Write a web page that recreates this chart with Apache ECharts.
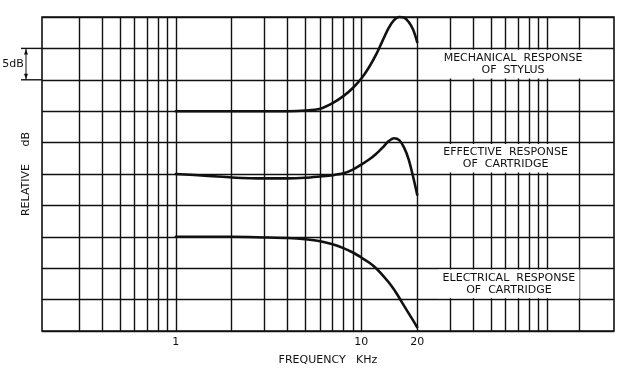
<!DOCTYPE html>
<html>
<head>
<meta charset="utf-8">
<script src="https://cdn.jsdelivr.net/npm/echarts@6/dist/echarts.min.js"></script>
<style>
html,body{margin:0;padding:0;background:#fff;}
#c{width:622px;height:380px;}
</style>
</head>
<body>
<div id="c"></div>
<script>
// ---- data ----
var xTickLabels = [1, 10, 20];
var xGridLines = [0.3,0.4,0.5,0.6,0.7,0.8,0.9,1,2,3,4,5,6,7,8,9,10,20,30,40,50,60,70,80,90,100,150];
var xMin = 0.19, xMax = 230;
var yMin = 0, yMax = 50, yStep = 5;

var freqMech = [1, 2, 3, 4, 5, 6, 7, 8, 9, 10, 11, 12, 13, 14, 15, 16, 17, 18, 19, 20];
var dbMech   = [35, 35, 35, 35, 35.1, 35.4, 36.3, 37.4, 38.7, 40.2, 42, 44, 46.2, 48.2, 49.5, 50, 49.9, 49.2, 48, 46];

var freqEff = [1, 1.5, 2, 3, 4, 5, 6, 7, 8, 9, 10, 11, 12, 13, 14, 15, 16, 17, 18, 19, 20];
var dbEff   = [25, 24.7, 24.45, 24.3, 24.3, 24.4, 24.6, 24.8, 25.1, 25.7, 26.5, 27.3, 28.2, 29.2, 30.2, 30.7, 30.4, 29.2, 27.3, 24.6, 21.7];

var freqElec = [1, 2, 3, 4, 5, 6, 7, 8, 9, 10, 11, 12, 13, 14, 15, 16, 17, 18, 19, 20];
var dbElec   = [15, 15, 14.9, 14.8, 14.6, 14.3, 13.8, 13.2, 12.5, 11.7, 10.9, 10, 8.9, 7.8, 6.6, 5.3, 4.0, 2.8, 1.7, 0.6];

var boxLabels = [
  {text: 'MECHANICAL  RESPONSE\nOF  STYLUS', x0: 26, x1: 166, y0: 40, y1: 45},
  {text: 'EFFECTIVE  RESPONSE\nOF  CARTRIDGE', x0: 26, x1: 138, y0: 25, y1: 30},
  {text: 'ELECTRICAL  RESPONSE\nOF  CARTRIDGE', x0: 26, x1: 150, y0: 5, y1: 10}
];

function pairs(xs, ys){ return xs.map(function(x,i){ return [x, ys[i]]; }); }

var FONT = 'DejaVu Sans';
var INK = '#111111';

var chart = echarts.init(document.getElementById('c'), null, {renderer:'canvas'});

var curveStyle = {color: INK, width: 2.6, cap: 'round', join: 'round'};
function curve(name, xs, ys){
  return {type: 'line', name: name, data: pairs(xs, ys), smooth: 0.3,
    showSymbol: false, symbol: 'none', clip: false, z: 5, lineStyle: curveStyle};
}

chart.setOption({
  animation: false,
  backgroundColor: '#fff',
  grid: {left: 42, right: 8, top: 17, bottom: 49, show: true, borderColor: INK, borderWidth: 1.6, backgroundColor: 'transparent'},
  xAxis: {
    type: 'log', logBase: 10, min: xMin, max: xMax,
    axisLine: {show: false}, axisTick: {show: false}, splitLine: {show: false}, minorSplitLine:{show:false},
    axisLabel: {customValues: xTickLabels, color: INK, fontFamily: FONT, fontSize: 11, margin: 6,
      formatter: function(v){ return String(Math.round(v)); }},
    name: 'FREQUENCY   KHz', nameLocation: 'middle', nameGap: 24,
    nameTextStyle: {color: INK, fontFamily: FONT, fontSize: 11}
  },
  yAxis: {
    type: 'value', min: yMin, max: yMax, interval: yStep,
    axisLine: {show: false}, axisTick: {show: false}, axisLabel: {show: false},
    splitLine: {show: true, lineStyle: {color: INK, width: 1.4}},
    name: 'RELATIVE     dB', nameLocation: 'middle', nameGap: 10, nameRotate: 90,
    nameTextStyle: {color: INK, fontFamily: FONT, fontSize: 11}
  },
  series: [
    {
      type: 'line', data: [], z: 1, silent: true,
      markLine: {
        z: 1, silent: true, symbol: ['none','none'], label: {show: false},
        lineStyle: {color: INK, width: 1.4, type: 'solid'},
        emphasis: {disabled: true},
        data: xGridLines.map(function(v){ return {xAxis: v}; })
      }
    },
    {
      type: 'line', data: [], z: 2, silent: true,
      markArea: {
        z: 2, silent: true,
        itemStyle: {color: '#ffffff', opacity: 1},
        label: {show: true, position: 'inside', color: INK, fontFamily: FONT, fontSize: 11, lineHeight: 12.5},
        data: boxLabels.map(function(b){
          return [{coord: [b.x0, b.y0 + 0.22], label: {formatter: b.text}}, {coord: [b.x1, b.y1 - 0.22]}];
        })
      }
    },
    curve('mech', freqMech, dbMech),
    curve('eff', freqEff, dbEff),
    curve('elec', freqElec, dbElec)
  ]
});

// 5 dB scale marker, positioned through the axes
var pTop = chart.convertToPixel({gridIndex: 0}, [xMin, 45]);
var pBot = chart.convertToPixel({gridIndex: 0}, [xMin, 40]);
var ax = 26, left = pTop[0];
chart.setOption({
  graphic: [
    {type: 'line', shape: {x1: 21, y1: pTop[1], x2: left, y2: pTop[1]}, style: {stroke: INK, lineWidth: 1.4}},
    {type: 'line', shape: {x1: 21, y1: pBot[1], x2: left, y2: pBot[1]}, style: {stroke: INK, lineWidth: 1.4}},
    {type: 'line', shape: {x1: ax, y1: pTop[1], x2: ax, y2: pBot[1]}, style: {stroke: INK, lineWidth: 1}},
    {type: 'polygon', shape: {points: [[ax, pTop[1]+0.5],[ax-2, pTop[1]+6],[ax+2, pTop[1]+6]]}, style: {fill: INK}},
    {type: 'polygon', shape: {points: [[ax, pBot[1]-0.5],[ax-2, pBot[1]-6],[ax+2, pBot[1]-6]]}, style: {fill: INK}},
    {type: 'text', x: 13, y: (pTop[1]+pBot[1])/2, style: {text: '5dB', fill: INK, font: '11px "DejaVu Sans"', align: 'center', verticalAlign: 'middle'}}
  ]
});
</script>
</body>
</html>
